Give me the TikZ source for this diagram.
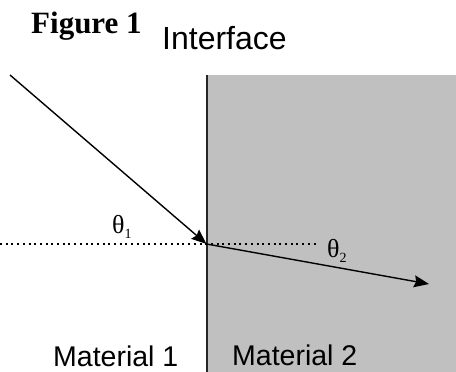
\documentclass[tikz,border=0pt]{standalone}
\usepackage{fontspec}
\setmainfont{Liberation Serif}
\newfontfamily\arialfont{Liberation Sans}
\usetikzlibrary{arrows.meta}
\definecolor{matgray}{HTML}{C0C0C0}
\tikzset{
  ray/.style={line width=1.4pt,-{Stealth[length=15pt,width=12pt,inset=2pt]}},
  normal/.style={line width=1.6pt,dash pattern=on 2pt off 3.7pt},
  sanslabel/.style={anchor=base west,inner sep=0pt,font=\arialfont\fontsize{28.5}{30}\selectfont},
  anglelabel/.style={anchor=base west,inner sep=0pt,font=\fontsize{26}{28}\selectfont}
}
\newcommand{\subnum}[1]{\raisebox{-5pt}{\fontsize{14}{14}\selectfont #1}}
\begin{document}
\begin{tikzpicture}[x=1pt,y=-1pt]
\useasboundingbox (0,0) rectangle (456,372);
\fill[matgray] (207,75) rectangle (456,372);
\coordinate (top) at (207,75);
\coordinate (bot) at (207,372);
\draw[line width=1.8pt,black!85] (top) -- (bot);
\coordinate (D1) at (0,244);
\coordinate (D2) at (318,244);
\draw[normal] (D1) -- (D2);
\coordinate (A) at (10,75);
\coordinate (O) at (206.5,244);
\coordinate (B) at (429,284);
\draw[ray] (A) -- (O);
\draw[ray] (O) -- (B);
\node[anchor=base west,inner sep=0pt,font=\bfseries\fontsize{31}{33}\selectfont] (fig) at (31,34) {Figure 1};
\node[sanslabel,font=\arialfont\fontsize{32}{34}\selectfont] (iface) at (162,49) {Interface};
\node[anglelabel] (t1) at (112,233) {θ\subnum{1}};
\node[anglelabel] (t2) at (327,257) {θ\subnum{2}};
\node[sanslabel] (m1) at (53,366) {Material 1};
\node[sanslabel] (m2) at (232,365) {Material 2};
\end{tikzpicture}
\end{document}
